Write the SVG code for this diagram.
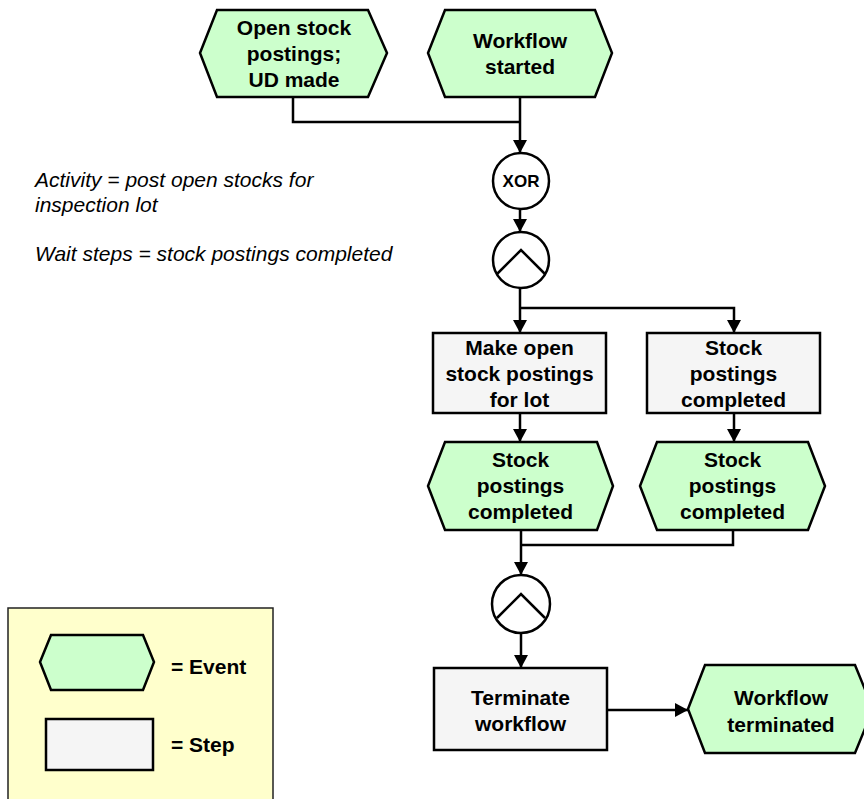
<svg xmlns="http://www.w3.org/2000/svg" width="864" height="799" viewBox="0 0 864 799">
<defs>
<marker id="ah" markerUnits="userSpaceOnUse" markerWidth="14" markerHeight="14" viewBox="0 0 14 14" refX="13" refY="7" orient="auto">
<path d="M0,0 L13,7 L0,14 Z" fill="#000"/>
</marker>
<style>
.ev{fill:#CCFFCC;stroke:#000;stroke-width:2.5;stroke-linejoin:miter}
.st{fill:#F5F5F5;stroke:#000;stroke-width:2.5}
.gw{fill:#fff;stroke:#000;stroke-width:2.5}
.cn{fill:none;stroke:#000;stroke-width:2.5}
.cm{fill:none;stroke:#000;stroke-width:2.5;marker-end:url(#ah)}
.t{font-family:"Liberation Sans",Arial,sans-serif;font-weight:bold;font-size:21px;text-anchor:middle;fill:#000}
.it{font-family:"Liberation Sans",Arial,sans-serif;font-style:italic;font-size:21px;fill:#000}
.lg{font-family:"Liberation Sans",Arial,sans-serif;font-weight:bold;font-size:21px;fill:#000}
</style>
</defs>
<rect width="864" height="799" fill="#fff"/>

<g id="legend">
<rect x="8" y="608" width="265" height="200" fill="#FFFFCC" stroke="#222" stroke-width="1.5"/>
<polygon class="ev" points="51,635 143,635 154,662 143,690 51,690 40,662"/>
<text class="lg" x="171" y="674">= Event</text>
<rect class="st" x="46" y="719" width="107" height="51"/>
<text class="lg" x="171" y="752">= Step</text>
</g>

<g id="notes">
<text class="it" x="35" y="187">Activity = post open stocks for</text>
<text class="it" x="35" y="212">inspection lot</text>
<text class="it" x="35" y="261">Wait steps = stock postings completed</text>
</g>

<g id="connectors">
<polyline class="cn" points="293,97 293,122 520,122"/>
<polyline class="cm" points="520,97 520,153"/>
<polyline class="cm" points="520,209 520,232"/>
<polyline class="cm" points="520,288 520,333"/>
<polyline class="cm" points="520,308 734,308 734,333"/>
<polyline class="cm" points="520,413 520,442"/>
<polyline class="cm" points="734,413 734,442"/>
<polyline class="cm" points="521,530 521,575"/>
<polyline class="cn" points="733,530 733,545 521,545"/>
<polyline class="cm" points="521,633 521,668"/>
<polyline class="cm" points="607,710 688,710"/>
</g>

<g id="ev-open">
<polygon class="ev" points="217,10 368,10 387,53 368,97 217,97 200,53"/>
<text class="t" x="294" y="35">Open stock</text>
<text class="t" x="294" y="61">postings;</text>
<text class="t" x="294" y="87">UD made</text>
</g>

<g id="ev-started">
<polygon class="ev" points="445,10 595,10 612,53 595,97 445,97 428,53"/>
<text class="t" x="520" y="48">Workflow</text>
<text class="t" x="520" y="74">started</text>
</g>

<g id="xor">
<circle class="gw" cx="521" cy="181" r="28"/>
<text class="t" x="521" y="187" style="font-size:17px">XOR</text>
</g>

<g id="and1">
<circle class="gw" cx="521" cy="260" r="28"/>
<polyline class="cn" points="497,274 521,250 545,274"/>
</g>

<g id="step-make">
<rect class="st" x="433" y="333" width="173" height="80"/>
<text class="t" x="519.5" y="355">Make open</text>
<text class="t" x="519.5" y="381">stock postings</text>
<text class="t" x="519.5" y="407">for lot</text>
</g>

<g id="step-wait">
<rect class="st" x="647" y="333" width="173" height="80"/>
<text class="t" x="733.5" y="355">Stock</text>
<text class="t" x="733.5" y="381">postings</text>
<text class="t" x="733.5" y="407">completed</text>
</g>

<g id="ev-done1">
<polygon class="ev" points="445,442 597,442 613,486 597,530 445,530 428,486"/>
<text class="t" x="520.5" y="467">Stock</text>
<text class="t" x="520.5" y="493">postings</text>
<text class="t" x="520.5" y="519">completed</text>
</g>

<g id="ev-done2">
<polygon class="ev" points="657,442 808,442 825,486 808,530 657,530 640,486"/>
<text class="t" x="732.5" y="467">Stock</text>
<text class="t" x="732.5" y="493">postings</text>
<text class="t" x="732.5" y="519">completed</text>
</g>

<g id="and2">
<circle class="gw" cx="521" cy="604" r="29"/>
<polyline class="cn" points="497,618 521,594 545,618"/>
</g>

<g id="step-term">
<rect class="st" x="434" y="668" width="173" height="82"/>
<text class="t" x="520.5" y="705">Terminate</text>
<text class="t" x="520.5" y="731">workflow</text>
</g>

<g id="ev-term">
<polygon class="ev" points="705,665 855,665 873,709 855,753 705,753 688,709"/>
<text class="t" x="781" y="705">Workflow</text>
<text class="t" x="781" y="732">terminated</text>
</g>
</svg>
